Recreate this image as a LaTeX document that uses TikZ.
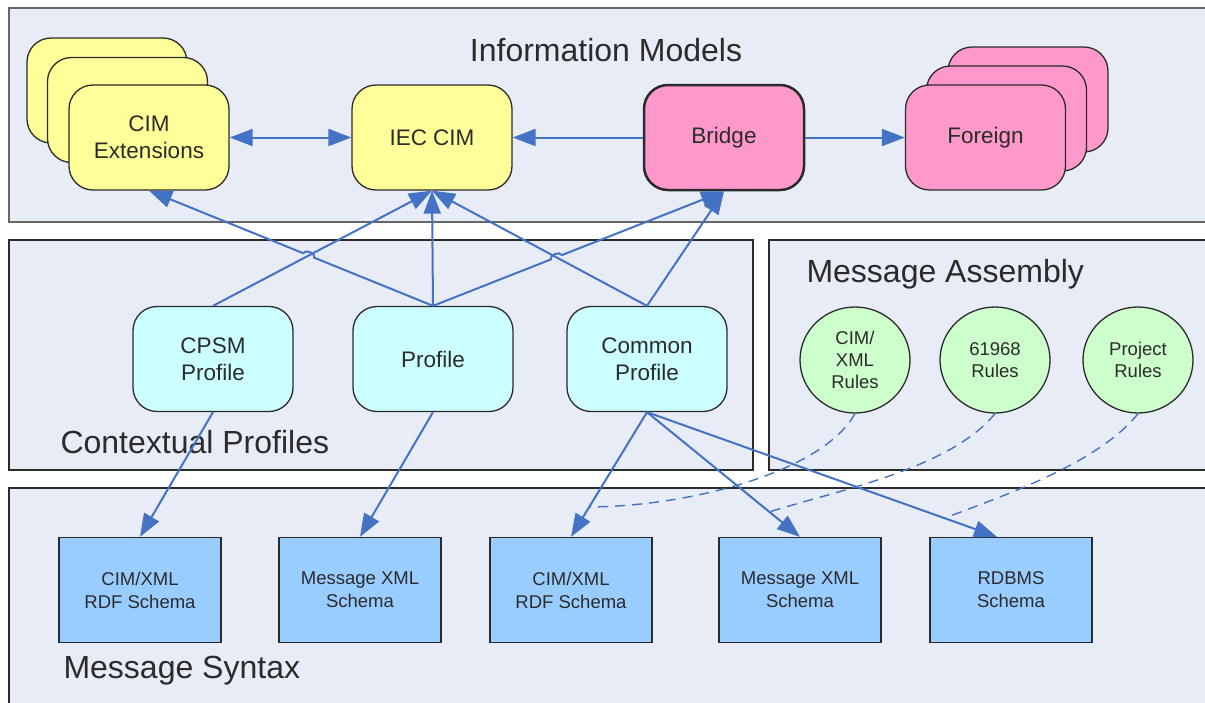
\documentclass[tikz,border=0pt]{standalone}
\usepackage{fontspec}
\setmainfont{Liberation Sans}
\usetikzlibrary{arrows.meta,calc,shapes.geometric,intersections}
\definecolor{panel}{HTML}{E8ECF6}
\definecolor{model}{HTML}{FFFF99}
\definecolor{bridge}{HTML}{FF99CC}
\definecolor{profile}{HTML}{CCFFFF}
\definecolor{rules}{HTML}{CCFFCC}
\definecolor{schema}{HTML}{99CCFF}
\definecolor{link}{HTML}{4472C4}
\definecolor{ink}{HTML}{2B2B2B}

\begin{document}
\begin{tikzpicture}[x=1pt,y=1pt,
  layer/.style={fill=panel,draw=ink,line width=1.5pt},
  title/.style={font=\fontsize{32}{38}\selectfont,text=ink},
  rbox/.style={draw=ink,line width=1.3pt,rounded corners=24pt,minimum width=160pt,
    minimum height=105pt,align=center,text=ink,font=\fontsize{22.5}{27}\selectfont},
  ext/.style={rbox,fill=model},
  pink/.style={rbox,fill=bridge},
  prof/.style={rbox,fill=profile},
  rule/.style={ellipse,draw=ink,line width=1.3pt,fill=rules,minimum width=110pt,
    minimum height=106pt,inner sep=0pt,align=center,text=ink,font=\fontsize{18.5}{22}\selectfont},
  schemabox/.style={draw=ink,line width=1.3pt,fill=schema,minimum width=162pt,
    minimum height=105pt,align=center,text=ink,font=\fontsize{18.5}{23}\selectfont},
  arr/.style={link,line width=2pt,-{Triangle[length=23pt,width=17pt]}},
  dblarr/.style={arr,{Triangle[length=23pt,width=17pt]}-{Triangle[length=23pt,width=17pt]}},
  ruleline/.style={link,line width=1.4pt,dash pattern=on 10pt off 7pt}]
  \useasboundingbox (0,0) rectangle (1205,-702);

  % Layers
  \fill[panel] (9,-8) rectangle (1215,-222);
  \draw[gray!80!black,line width=2.5pt] (1215,-8) -- (9,-8) -- (9,-222) -- (1215,-222);
  \draw[layer] (9,-240) rectangle (753,-470);
  \draw[layer] (769,-240) rectangle (1215,-470);
  \draw[layer] (9,-488) rectangle (1215,-712);

  \node[title] (tinfo) at (606,-50) {Information Models};
  \node[title,anchor=base west] (tctx) at (57,-453) {Contextual Profiles};
  \node[title,anchor=base west] (tasm) at (803,-282) {Message Assembly};
  \node[title,anchor=base west] (tsyn) at (60,-678) {Message Syntax};

  % Information models
  \node[ext] (ext3) at (107,-90.5) {};
  \node[ext] (ext2) at (127.5,-110) {};
  \node[ext] (ext) at (149,-137.5) {CIM\\Extensions};
  \node[ext] (iec) at (432,-137.5) {IEC CIM};
  \node[pink,line width=2.5pt] (bridge) at (724,-137.5) {Bridge};
  \node[pink] (for3) at (1028,-99.5) {};
  \node[pink] (for2) at (1006.5,-118.5) {};
  \node[pink] (foreign) at (985.5,-137.5) {Foreign};

  % Contextual profiles
  \node[prof] (cpsm) at (213,-359) {CPSM\\Profile};
  \node[prof] (profile) at (433,-359) {Profile};
  \node[prof] (common) at (647,-359) {Common\\Profile};

  % Message assembly
  \node[rule] (rcim) at (855,-360) {CIM/\\XML\\Rules};
  \node[rule] (riec) at (995,-360) {61968\\Rules};
  \node[rule] (rproj) at (1138,-360) {Project\\Rules};

  % Message syntax
  \node[schemabox] (s1) at (140,-590) {CIM/XML\\RDF Schema};
  \node[schemabox] (s2) at (360,-590) {Message XML\\Schema};
  \node[schemabox] (s3) at (571,-590) {CIM/XML\\RDF Schema};
  \node[schemabox] (s4) at (800,-590) {Message XML\\Schema};
  \node[schemabox] (s5) at (1011,-590) {RDBMS\\Schema};

  % Links between models
  \draw[dblarr] (ext) -- (iec);
  \draw[arr] (bridge) -- (iec);
  \draw[arr] (bridge) -- (foreign);

  % Profiles up to models (two crossings get a hop)
  \path[name path=pa] (profile.north) -- (ext.south);
  \path[name path=pb] (cpsm.north) -- (iec.south);
  \path[name path=pc] (profile.north) -- (bridge.south);
  \path[name path=pd] (common.north) -- (iec.south);
  \path[name intersections={of=pa and pb,by=hopa}];
  \path[name intersections={of=pc and pd,by=hopb}];
  \draw[arr] (cpsm.north) -- (iec.south);
  \draw[arr] (profile.north) -- (iec.south);
  \draw[arr] (common.north) -- (iec.south);
  \draw[arr] (common.north) -- (bridge.south);
  \draw[arr] (profile.north) -- ($(hopa)!6pt!(profile.north)$)
    to[bend right=90] ($(hopa)!6pt!(ext.south)$) -- (ext.south);
  \draw[arr] (profile.north) -- ($(hopb)!6pt!(profile.north)$)
    to[bend left=90] ($(hopb)!6pt!(bridge.south)$) -- (bridge.south);

  % Profiles down to schemas
  \draw[arr] (cpsm.south) -- (s1.north);
  \draw[arr] (profile.south) -- (s2.north);
  \draw[arr] (common.south) -- (s3.north);
  \draw[arr] (common.south) -- (s4.north);
  \draw[arr] (common.south) -- ([xshift=-14pt]s5.north);

  % Rules attach to the schema links
  \coordinate (ja) at ($(common.south)!0.76!(s3.north)$);
  \coordinate (jb) at ($(common.south)!0.80!(s4.north)$);
  \coordinate (jc) at ($(common.south)!0.85!([xshift=-14pt]s5.north)$);
  \draw[ruleline] (rcim.south) .. controls +(-35,-62) and +(90,0) .. (ja);
  \draw[ruleline] (riec.south) .. controls +(-45,-55) and +(70,22) .. (jb);
  \draw[ruleline] (rproj.south) .. controls +(-40,-50) and +(60,23) .. (jc);
\end{tikzpicture}
\end{document}
